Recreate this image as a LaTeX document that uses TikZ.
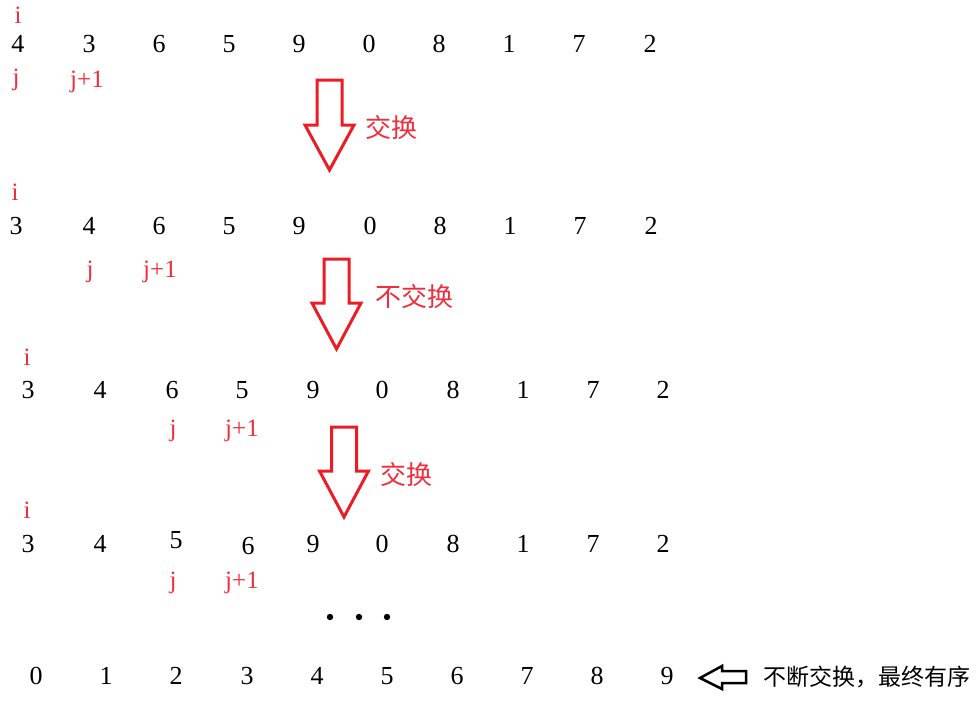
\documentclass[tikz,border=0pt]{standalone}
\usepackage{fontspec}
\setmainfont{Liberation Serif}
\newfontfamily\cjk{Noto Sans CJK SC}
\definecolor{arrred}{RGB}{237,28,36}
\definecolor{txtred}{RGB}{240,45,60}
\tikzset{
num/.style={font=\fontsize{26}{26}\selectfont,inner sep=0pt},
idx/.style={font=\fontsize{25}{25}\selectfont,text=txtred,inner sep=0pt},
note/.style={font=\cjk\fontsize{26}{26}\selectfont,text=txtred,inner sep=0pt},
blk/.style={draw=arrred,line width=3pt,line join=miter},
}
% hollow arrow pointing down: centre x, top, shoulder, tip
\newcommand\blockdown[4]{\draw[blk](#1-12.5,#2)--(#1+12.5,#2)--(#1+12.5,#3)--(#1+24.5,#3)--(#1,#4)--(#1-24.5,#3)--(#1-12.5,#3)--cycle;}
\begin{document}
\begin{tikzpicture}[x=1pt,y=-1pt]
\useasboundingbox(0,0)rectangle(979,704);
\foreach \d/\x[count=\k] in {4/18,3/89,6/159,5/229,9/299,0/369,8/439,1/509,7/579,2/650}
  \node[num](a\k)at(\x,44){\d};
\foreach \d/\x[count=\k] in {3/16,4/89,6/159,5/229,9/299,0/370,8/440,1/510,7/580,2/651}
  \node[num](b\k)at(\x,226){\d};
\foreach \d/\x[count=\k] in {3/28,4/100,6/172,5/242,9/313,0/382,8/453,1/523,7/593,2/663}
  \node[num](c\k)at(\x,390){\d};
\foreach \d/\x/\y[count=\k] in {3/28/544,4/100/544,5/176/540,6/248/546,9/313/544,0/382/544,8/453/544,1/523/544,7/593/544,2/663/544}
  \node[num](d\k)at(\x,\y){\d};
\foreach \d/\x[count=\k] in {0/36,1/106,2/176,3/247,4/317,5/387,6/457,7/527,8/597,9/667}
  \node[num](e\k)at(\x,676){\d};
% i, j, j+1
\node[idx](ia)at(18,15){i};
\node[idx](ja)at(16,80){j};
\node[idx](ka)at(87,82){j+1};
\node[idx](ib)at(15,192){i};
\node[idx](jb)at(90,272){j};
\node[idx](kb)at(160,272){j+1};
\node[idx](ic)at(27,357){i};
\node[idx](jc)at(173,431){j};
\node[idx](kc)at(242,431){j+1};
\node[idx](id)at(27,510){i};
\node[idx](jd)at(173,583){j};
\node[idx](kd)at(242,583){j+1};
% arrows
\blockdown{329.5}{80}{125}{170}
\node[note](sa)at(391,128){交换};
\blockdown{336.5}{259}{303}{349}
\node[note](sb)at(414,297){不交换};
\blockdown{344}{427}{471}{517}
\node[note](sc)at(406,475){交换};
\foreach \x in {330,359,387}\fill(\x,617)circle(3.2);
\draw[line width=2.5pt,line join=miter](700,678)--(722,666)--(722,671)--(746,671)--(746,683)--(722,683)--(722,689)--cycle;
\node[font=\cjk\fontsize{23}{23}\selectfont,inner sep=0pt,anchor=west](fin)at(763,677){不断交换，最终有序};
\end{tikzpicture}
\end{document}
